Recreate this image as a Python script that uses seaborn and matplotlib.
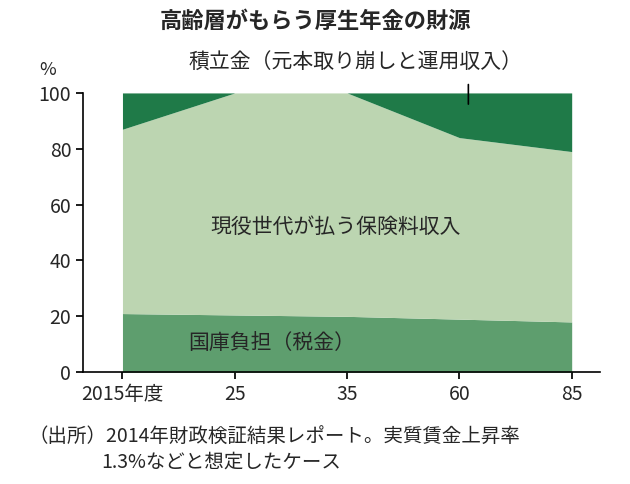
import matplotlib
matplotlib.use("Agg")
import matplotlib.pyplot as plt
import seaborn as sns
import numpy as np

sns.set_theme(style="white")
plt.rcParams['font.family'] = ['Noto Sans CJK JP', 'DejaVu Sans']

years = ["2015年度", "25", "35", "60", "85"]
tax = [21, 20.5, 20, 19, 18]           # 国庫負担
premium = [66, 79.5, 80, 65, 61]       # 保険料収入
reserve = [13, 0, 0, 16, 21]           # 積立金

x = np.arange(len(years))
fig = plt.figure(figsize=(6.3, 4.84), dpi=100)
ax = fig.add_axes([0.132, 0.231, 0.820, 0.577])
ax.stackplot(x, tax, premium, reserve,
             colors=["#5e9e6e", "#bcd5b1", "#1f7a48"], linewidth=0)
ax.set_xlim(-0.35, 4.25)
ax.set_ylim(0, 100)
ax.set_xticks(x)
ax.set_xticklabels(years, fontsize=14)
ax.set_yticks(range(0, 101, 20))
ax.tick_params(axis='y', labelsize=14, length=5, left=True, color='black')
ax.tick_params(axis='x', length=5, bottom=True, color='black')
for s in ["top", "right"]:
    ax.spines[s].set_visible(False)
for s in ["left", "bottom"]:
    ax.spines[s].set_color("black")
    ax.spines[s].set_linewidth(1.2)

fig.text(0.5, 0.955, "高齢層がもらう厚生年金の財源", ha="center", va="center",
         fontsize=16, fontweight="bold")
fig.text(0.075, 0.845, "%", fontsize=13, ha="center")
fig.text(0.565, 0.872, "積立金（元本取り崩しと運用収入）", ha="center", va="center", fontsize=15)
ax.annotate("", xy=(3.08, 95), xytext=(3.08, 104),
            arrowprops=dict(arrowstyle="-", color="black", lw=1.2), annotation_clip=False)
ax.text(1.9, 52, "現役世代が払う保険料収入", ha="center", va="center", fontsize=15)
ax.text(1.33, 10.5, "国庫負担（税金）", ha="center", va="center", fontsize=15)
fig.text(0.045, 0.097, "（出所）2014年財政検証結果レポート。実質賃金上昇率", fontsize=14, va="center")
fig.text(0.16, 0.045, "1.3%などと想定したケース", fontsize=14, va="center")

fig.savefig("out.png", dpi=100)
